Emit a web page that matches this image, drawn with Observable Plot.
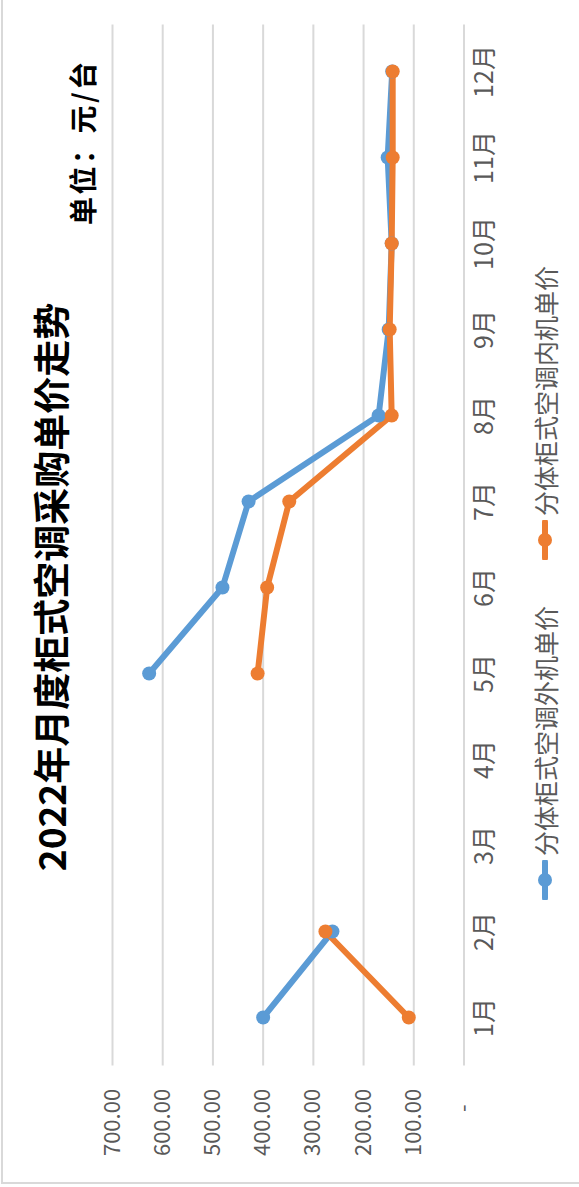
<!DOCTYPE html>
<html>
<head>
<meta charset="utf-8">
<script src="https://cdn.jsdelivr.net/npm/d3@7"></script>
<script src="https://cdn.jsdelivr.net/npm/@observablehq/plot@0.6"></script>
<style>
  html, body { margin: 0; padding: 0; background: #fff; overflow: hidden; }
  body { width: 579px; height: 1187px; position: relative; }
  #wrap {
    position: absolute; left: 0; top: 0; width: 1187px; height: 579px;
    transform-origin: 0 0; transform: translate(0, 1187px) rotate(-90deg);
    font-family: "Noto Sans CJK SC", "Noto Sans", sans-serif; background: #fff;
  }
  #frame { position: absolute; left: 3px; top: 1px; width: 1300px; height: 700px; border-left: 2px solid #d9d9d9; border-top: 2px solid #d9d9d9; }
  #title { position: absolute; left: 0; width: 1200px; top: 32px; text-align: center; font-size: 37px; font-weight: bold; color: #000; line-height: 1; }
  #unit { position: absolute; left: 962px; top: 68px; font-size: 28px; letter-spacing: 2.5px; font-weight: bold; color: #000; line-height: 1; white-space: pre; }
  #chart { position: absolute; left: 0; top: 0; }
  .leg { position: absolute; top: 528px; height: 34px; display: flex; align-items: center; font-size: 25px; color: #595959; white-space: nowrap; }
  .leg svg { margin-right: 4px; }
</style>
</head>
<body>
<div id="wrap">
  <div id="frame"></div>
  <div id="chart"></div>
  <div id="title"></div>
  <div id="unit"></div>
  <div id="legend"></div>
</div>
<script>
const titleText = "2022年月度柜式空调采购单价走势";
const unitText = "单位：元/台";
const months = ["1月","2月","3月","4月","5月","6月","7月","8月","9月","10月","11月","12月"];
const seriesNames = ["分体柜式空调外机单价", "分体柜式空调内机单价"];
const seriesColors = ["#5B9BD5", "#ED7D31"];
const outdoorPrice = [400, 262, null, null, 627, 481, 429, 170, 150, 144, 152, 143];
const indoorPrice  = [110, 276, null, null, 411, 392, 348, 144, 148, 144, 142, 142];
const valueTicks = [0, 100, 200, 300, 400, 500, 600, 700];

const rows = [];
[outdoorPrice, indoorPrice].forEach((arr, si) => {
  arr.forEach((v, i) => rows.push({month: months[i], value: v == null ? NaN : v, series: seriesNames[si]}));
});
const defined = rows.filter(d => !isNaN(d.value));

const chart = Plot.plot({
  width: 1187,
  height: 579,
  marginTop: 112,
  marginBottom: 115.5,
  marginLeft: 121.6,
  marginRight: 24.6,
  style: {fontFamily: '"Noto Sans CJK SC", "Noto Sans", sans-serif', fontSize: "22px", color: "#595959", background: "transparent"},
  x: {type: "point", domain: months, padding: 0.5, label: null},
  y: {domain: [0, 700], label: null},
  color: {domain: seriesNames, range: seriesColors},
  marks: [
    Plot.ruleY(valueTicks.filter(v => v > 0), {stroke: "#d9d9d9", strokeWidth: 2}),
    Plot.ruleY([0], {stroke: "#d9d9d9", strokeWidth: 2}),
    Plot.axisY({ticks: valueTicks, tickSize: 0, tickPadding: 24,
      tickFormat: v => v === 0 ? "-\u2002\u2009" : v.toFixed(2), fill: "#595959"}),
    Plot.axisX({tickSize: 0, tickPadding: 11, fontSize: 25, fill: "#595959"}),
    Plot.line(rows, {x: "month", y: "value", z: "series", stroke: "series", strokeWidth: 6, curve: "linear"}),
    Plot.dot(defined, {x: "month", y: "value", fill: "series", r: 7, stroke: "none"})
  ]
});
document.getElementById("chart").appendChild(chart);

document.getElementById("title").textContent = titleText;
document.getElementById("unit").textContent = unitText;

const legendX = [287, 627];
const legend = document.getElementById("legend");
seriesNames.forEach((name, i) => {
  const item = document.createElement("div");
  item.className = "leg";
  item.style.left = legendX[i] + "px";
  item.innerHTML = `<svg width="40" height="20"><line x1="2" y1="10" x2="38" y2="10" stroke="${seriesColors[i]}" stroke-width="6" stroke-linecap="round"/><circle cx="20" cy="10" r="7" fill="${seriesColors[i]}"/></svg><span>${name}</span>`;
  legend.appendChild(item);
});
</script>
</body>
</html>
